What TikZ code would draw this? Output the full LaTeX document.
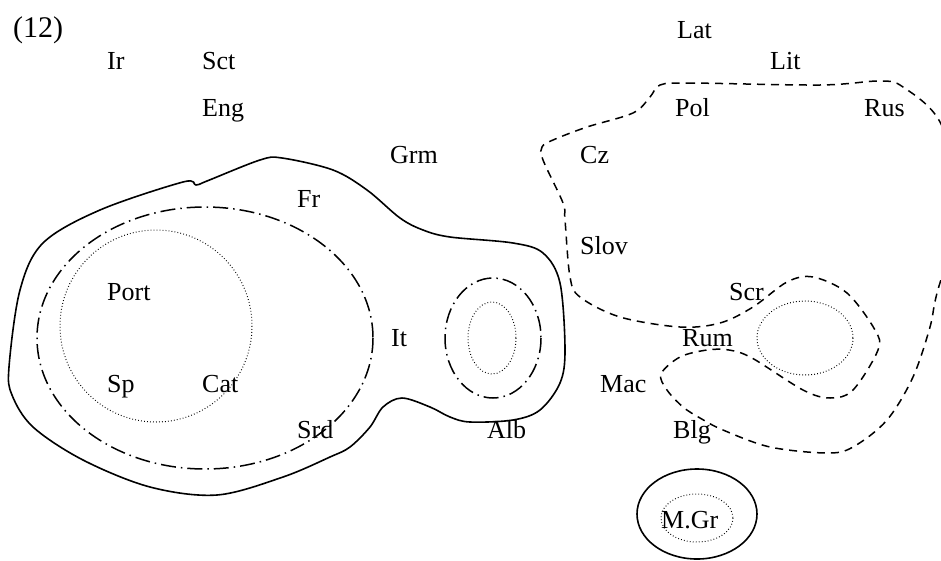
\documentclass[tikz,border=0pt]{standalone}
\usepackage{fontspec}
\setmainfont{Liberation Serif}
\begin{document}
\begin{tikzpicture}[x=1pt,y=-1pt,
  lab/.style={anchor=base west,inner sep=0pt,font=\fontsize{26}{30}\selectfont},
  solidline/.style={line width=1.6pt},
  dashline/.style={line width=1.5pt,dash pattern=on 8pt off 6pt},
  dashdotline/.style={line width=1.5pt,dash pattern=on 15pt off 5pt on 1.5pt off 5pt},
  dotline/.style={line width=1pt,dash pattern=on 0.8pt off 2.2pt}]
\useasboundingbox (0,0) rectangle (941,560);
\clip (0,0) rectangle (941,560);
% labels
\node[lab,font=\fontsize{30}{34}\selectfont] (n12) at (13,37) {(12)};
\node[lab] (ir) at (107,69) {Ir};
\node[lab] (sct) at (202,69) {Sct};
\node[lab] (eng) at (202,116) {Eng};
\node[lab] (grm) at (390,163) {Grm};
\node[lab] (lat) at (677,38) {Lat};
\node[lab] (lit) at (770,69) {Lit};
\node[lab] (pol) at (675,116) {Pol};
\node[lab] (rus) at (864,116) {Rus};
\node[lab] (cz) at (580,163) {Cz};
\node[lab] (fr) at (297,207) {Fr};
\node[lab] (slov) at (580,254) {Slov};
\node[lab] (port) at (107,300) {Port};
\node[lab] (scr) at (729,300) {Scr};
\node[lab] (it) at (391,346) {It};
\node[lab] (rum) at (682,346) {Rum};
\node[lab] (sp) at (107,392) {Sp};
\node[lab] (cat) at (202,392) {Cat};
\node[lab] (mac) at (600,392) {Mac};
\node[lab] (srd) at (297,438) {Srd};
\node[lab] (alb) at (487,438) {Alb};
\node[lab] (blg) at (673,438) {Blg};
\node[lab] (mgr) at (661,528) {M.Gr};
% Romance outline
\draw[solidline] plot[smooth cycle,tension=0.55] coordinates {
 (9,367) (20,290) (43,243) (100,210) (183,182) (196,185) (207,181)
 (260,160) (282,158) (333,170) (367,190) (400,218) (423,230) (450,237)
 (513,243) (543,253) (560,283) (565,350) (560,383) (540,410) (513,420)
 (470,422) (450,417) (430,407) (402,398) (383,407) (370,427) (350,447) (330,457) (283,477)
 (217,495) (150,487) (83,460) (33,427) (12,395)};
\draw[dashdotline] (205,338) ellipse [x radius=168,y radius=131];
\draw[dotline] (156,326) circle [radius=96];
\draw[dashdotline] (493,338) ellipse [x radius=48,y radius=60];
\draw[dotline] (492,338) ellipse [x radius=24,y radius=36];
% Slavic outline
\draw[dashline] plot[smooth cycle,tension=0.55] coordinates {
 (660,85) (687,83) (820,85) (880,81) (903,87) (940,122) (962,200)
 (937,293) (930,327) (913,377) (887,420) (853,447) (827,453) (770,447)
 (723,430) (700,418) (683,407) (667,390) (661,374) (680,357) (707,350) (729,350) (752,358)
 (803,390) (830,398) (853,390) (878,350) (875,330) (847,293) (813,277)
 (787,282) (753,307) (720,323) (680,327) (620,317) (580,297) (570,277)
 (565,220) (563,203) (543,160) (542,147) (553,140) (587,127) (633,113) (650,97)};
\draw[dotline] (805,338) ellipse [x radius=48,y radius=37];
% Greek
\draw[solidline] (697,514) ellipse [x radius=60,y radius=45];
\draw[dotline] (697,518) ellipse [x radius=36,y radius=24];
\end{tikzpicture}
\end{document}
